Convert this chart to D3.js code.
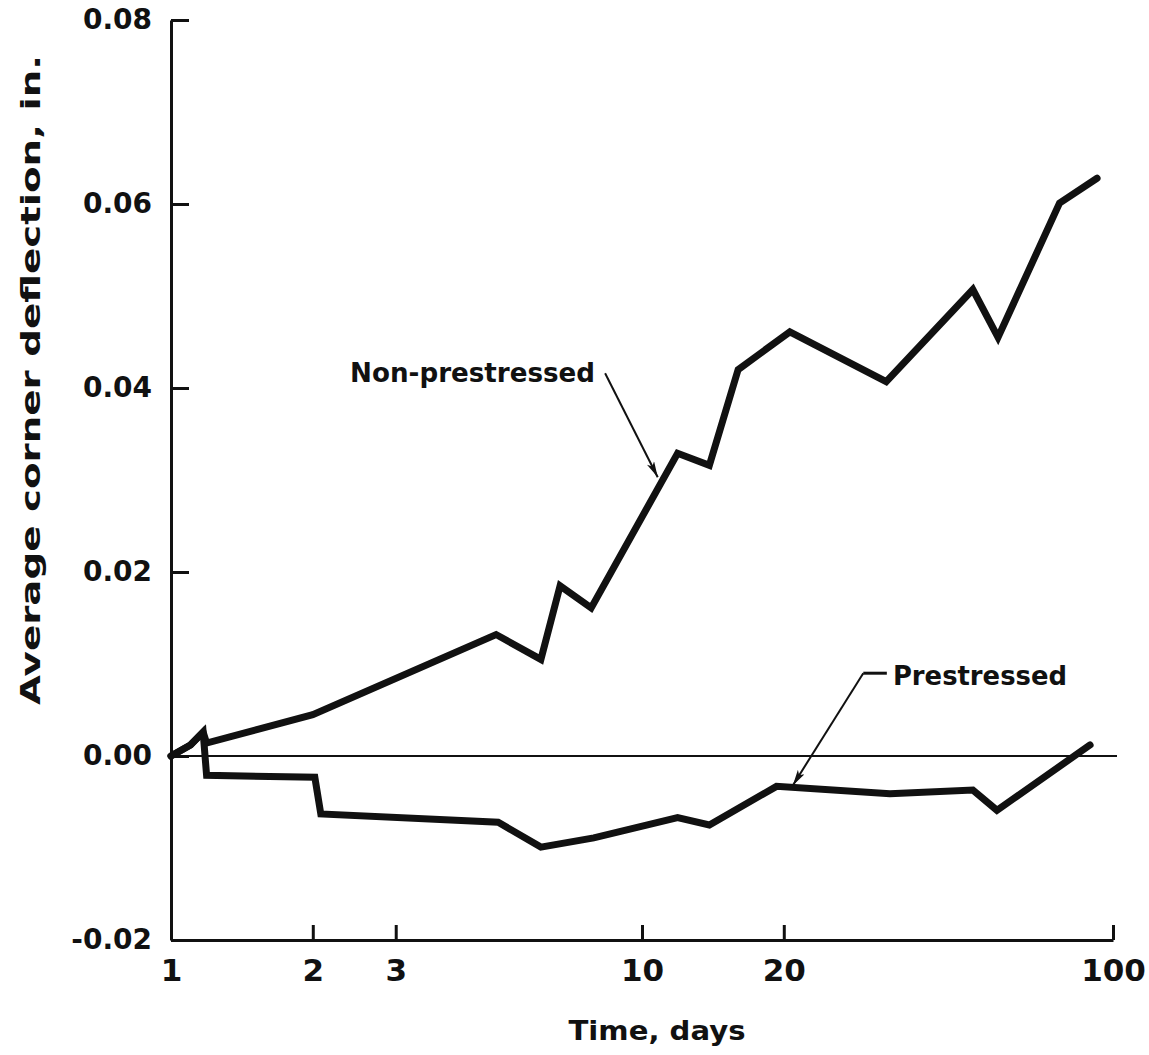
<!DOCTYPE html>
<html>
<head>
<meta charset="utf-8">
<script src="https://cdn.jsdelivr.net/npm/d3@7"></script>
<style>
  html, body { margin: 0; padding: 0; background: #fff; }
  svg { display: block; }
  text { font-family: "DejaVu Sans", "Liberation Sans", sans-serif; font-weight: bold; fill: #111; }
</style>
</head>
<body>
<script>
// Time after loading, days (log scale)
const xTicks = [1, 2, 3, 10, 20, 100];
const xTickLabels = ["1", "2", "3", "10", "20", "100"];
const yTicks = [-0.02, 0, 0.02, 0.04, 0.06, 0.08];
const yTickLabels = ["-0.02", "0.00", "0.02", "0.04", "0.06", "0.08"];

// Non-prestressed slab: average corner deflection, in.
const nonPrestressedDays = [1, 1.1, 1.17, 1.19, 2.0, 4.9, 6.1, 6.7, 7.8, 11.9, 13.9, 16.0, 20.6, 33.0, 50.4, 57.0, 77.0, 92.5];
const nonPrestressedDefl = [0, 0.0012, 0.0026, 0.0014, 0.0045, 0.0132, 0.0105, 0.0185, 0.0161, 0.0329, 0.0316, 0.0420, 0.0461, 0.0407, 0.0507, 0.0455, 0.0601, 0.0628];

// Prestressed slab: average corner deflection, in.
const prestressedDays = [1, 1.1, 1.17, 1.19, 2.02, 2.08, 4.95, 6.1, 7.9, 11.9, 13.9, 19.3, 33.6, 50.4, 56.7, 89.4];
const prestressedDefl = [0, 0.0012, 0.0026, -0.0021, -0.0023, -0.0063, -0.0072, -0.0099, -0.0089, -0.0067, -0.0075, -0.0033, -0.0041, -0.0037, -0.0059, 0.0012];

const W = 1149, H = 1055;
const svg = d3.select("body").append("svg").attr("width", W).attr("height", H);

const x = d3.scaleLog().domain([1, 100]).range([171, 1113]);
const y = d3.scaleLinear().domain([-0.02, 0.08]).range([940, 20]);

// Zero reference line
svg.append("line")
  .attr("x1", x(1)).attr("x2", x(100) + 4)
  .attr("y1", y(0)).attr("y2", y(0))
  .attr("stroke", "#111").attr("stroke-width", 2);

// X axis (ticks pointing inward)
const xAxis = svg.append("g")
  .attr("transform", `translate(0,${y(-0.02)})`)
  .call(d3.axisBottom(x)
    .tickValues(xTicks)
    .tickFormat((d, i) => xTickLabels[i])
    .tickSizeInner(-15).tickSizeOuter(0).tickPadding(19));
xAxis.select(".domain").attr("stroke", "#111").attr("stroke-width", 3);
xAxis.selectAll(".tick line").attr("stroke", "#111").attr("stroke-width", 3);
xAxis.selectAll(".tick text").attr("font-size", 31).attr("fill", "#111")
  .attr("font-family", "DejaVu Sans").attr("font-weight", "bold");

// Y axis (ticks pointing inward)
const yAxis = svg.append("g")
  .attr("transform", `translate(${x(1)},0)`)
  .call(d3.axisLeft(y)
    .tickValues(yTicks)
    .tickFormat((d, i) => yTickLabels[i])
    .tickSizeInner(-18).tickSizeOuter(0).tickPadding(19));
yAxis.select(".domain").attr("stroke", "#111").attr("stroke-width", 3);
yAxis.selectAll(".tick line").attr("stroke", "#111").attr("stroke-width", 3);
yAxis.selectAll(".tick text").attr("font-size", 28).attr("fill", "#111")
  .attr("font-family", "DejaVu Sans").attr("font-weight", "bold");

// Curves
const line = d3.line().x(d => x(d[0])).y(d => y(d[1]));
const series = [
  d3.zip(nonPrestressedDays, nonPrestressedDefl),
  d3.zip(prestressedDays, prestressedDefl)
];
svg.selectAll("path.curve").data(series).enter().append("path")
  .attr("class", "curve")
  .attr("d", line)
  .attr("fill", "none")
  .attr("stroke", "#111")
  .attr("stroke-width", 7)
  .attr("stroke-linejoin", "miter")
  .attr("stroke-miterlimit", 3)
  .attr("stroke-linecap", "round");

// Arrowhead marker
svg.append("defs").append("marker")
  .attr("id", "head")
  .attr("viewBox", "0 0 16 8")
  .attr("refX", 16).attr("refY", 4)
  .attr("markerWidth", 16).attr("markerHeight", 8)
  .attr("markerUnits", "userSpaceOnUse")
  .attr("orient", "auto")
  .append("path").attr("d", "M0,0 L16,4 L0,8 L4,4 Z").attr("fill", "#111");

// Series labels with leader arrows (positions in data units)
svg.append("text")
  .attr("x", x(2.4)).attr("y", y(0.0406))
  .attr("font-size", 26)
  .attr("textLength", 245).attr("lengthAdjust", "spacingAndGlyphs")
  .text("Non-prestressed");
svg.append("line")
  .attr("x1", x(8.35)).attr("y1", y(0.0416))
  .attr("x2", x(10.8)).attr("y2", y(0.0303))
  .attr("stroke", "#111").attr("stroke-width", 2)
  .attr("marker-end", "url(#head)");

svg.append("text")
  .attr("x", x(34.1)).attr("y", y(0.0077))
  .attr("font-size", 26)
  .attr("textLength", 174).attr("lengthAdjust", "spacingAndGlyphs")
  .text("Prestressed");
svg.append("line")
  .attr("x1", x(29.5)).attr("y1", y(0.0090))
  .attr("x2", x(33.1)).attr("y2", y(0.0090))
  .attr("stroke", "#111").attr("stroke-width", 3);
svg.append("line")
  .attr("x1", x(29.5)).attr("y1", y(0.0090))
  .attr("x2", x(20.9)).attr("y2", y(-0.0032))
  .attr("stroke", "#111").attr("stroke-width", 2)
  .attr("marker-end", "url(#head)");

// Axis titles
svg.append("text")
  .attr("x", 657).attr("y", 1040)
  .attr("text-anchor", "middle")
  .attr("font-size", 26)
  .attr("textLength", 177).attr("lengthAdjust", "spacingAndGlyphs")
  .text("Time, days");

svg.append("text")
  .attr("transform", "translate(40,380) rotate(-90)")
  .attr("text-anchor", "middle")
  .attr("font-size", 26)
  .attr("textLength", 650).attr("lengthAdjust", "spacingAndGlyphs")
  .text("Average corner deflection, in.");
</script>
</body>
</html>
